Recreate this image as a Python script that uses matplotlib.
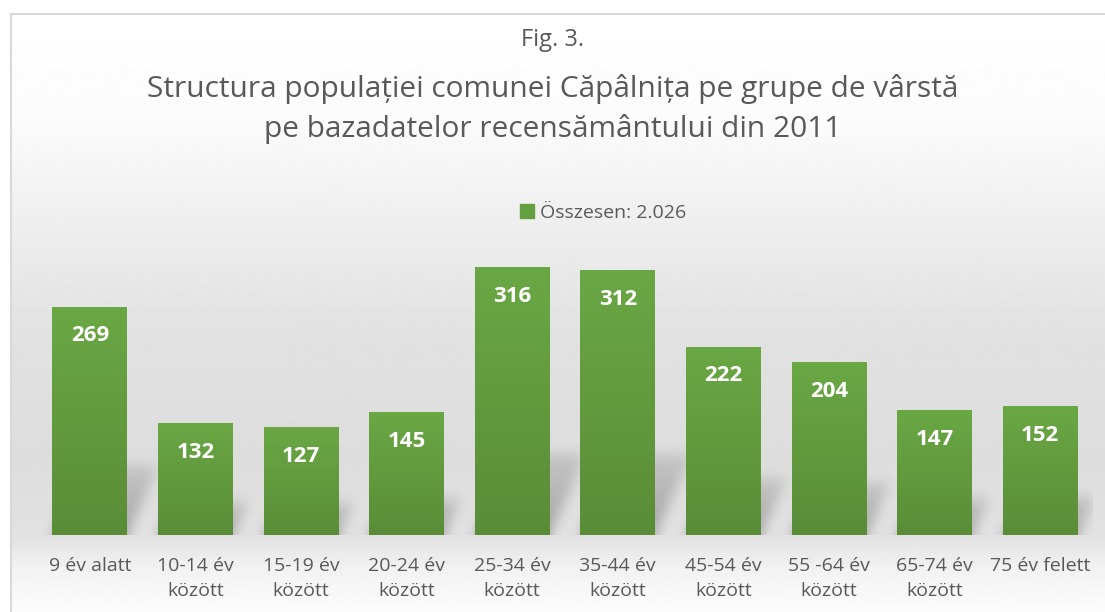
import matplotlib
matplotlib.use("Agg", force=True)

import numpy as np
import matplotlib.pyplot as plt
from matplotlib.patches import Rectangle
from matplotlib.colors import LinearSegmentedColormap

# data
categories = ["9 év alatt", "10-14 év\nközött", "15-19 év\nközött", "20-24 év\nközött",
              "25-34 év\nközött", "35-44 év\nközött", "45-54 év\nközött", "55 -64 év\nközött",
              "65-74 év\nközött", "75 év felett"]
values = [269, 132, 127, 145, 316, 312, 222, 204, 147, 152]
series_name = "Összesen: 2.026"
title_top = "Fig. 3."
title_main = "Structura populației comunei Căpâlnița pe grupe de vârstă\npe bazadatelor recensământului din 2011"

plt.rcParams['font.family'] = ['Open Sans', 'DejaVu Sans']
TXT = "#595959"
W, H = 1105, 612

fig = plt.figure(figsize=(W / 100, H / 100), dpi=100)
fig.patch.set_facecolor("white")

# background gradient inside the chart frame (vertical, grey in the middle)
bg = fig.add_axes([0, 0, 1, 1], zorder=0)
bg.set_xlim(0, W)
bg.set_ylim(H, 0)
bg.axis("off")
stops_y = [13, 120, 220, 330, 460, 535, 570, 612]
stops_c = [1.0, 0.985, 0.935, 0.885, 0.865, 0.885, 0.95, 0.99]
ys = np.arange(13, H + 1)
g = np.interp(ys, stops_y, stops_c)
bg.imshow(np.repeat(g[:, None], 2, axis=1), cmap="gray", vmin=0, vmax=1,
          extent=(10, W, H, 13), aspect="auto", interpolation="bilinear")
bg.plot([10.5, 10.5], [H, 13.5], color="#d9d9d9", lw=1.5)
bg.plot([10.5, W], [13.5, 13.5], color="#d9d9d9", lw=1.5)

# main axes
x0, x1, ybase, ytop = 37, 1093, 535, 238
ax = fig.add_axes([x0 / W, (H - ybase) / H, (x1 - x0) / W, (ybase - ytop) / H], zorder=2)
ax.patch.set_alpha(0)
ymax = 350
ax.set_xlim(-0.5, len(values) - 0.5)
ax.set_ylim(0, ymax)
for s in ax.spines.values():
    s.set_visible(False)
ax.set_yticks([])
xpos = np.arange(len(values))
ax.set_xticks(xpos)
ax.set_xticklabels(categories, fontsize=14, color=TXT, linespacing=1.5, va="top")
ax.tick_params(axis="x", length=0, pad=16)

bw = 0.71

# soft perspective shadows behind the bars
pxx = (x1 - x0) / len(values)
pxy = (ybase - ytop) / ymax
pad = 30
nx, ny = x1 - x0, (ybase - ytop) + pad
mask = np.zeros((ny, nx))
cols = np.arange(nx)
for i, v in enumerate(values):
    hpx = v * pxy
    sh = 0.30 * hpx
    skew = 0.45 * sh
    l = (i + 0.5 - bw / 2) * pxx
    r = (i + 0.5 + bw / 2) * pxx
    for row in range(ny):
        yb = row - pad
        if yb > sh:
            break
        t = max(yb, 0) / sh
        off = skew * t
        sel = (cols >= l + off) & (cols <= r + off)
        mask[row, sel] = np.maximum(mask[row, sel], 1 - 0.6 * t)
k = np.exp(-0.5 * (np.arange(-18, 19) / 6.0) ** 2)
k /= k.sum()
mask = np.apply_along_axis(lambda a: np.convolve(a, k, "same"), 1, mask)
mask = np.apply_along_axis(lambda a: np.convolve(a, k, "same"), 0, mask)
shadow = np.zeros((ny, nx, 4))
shadow[..., :3] = 0.45
shadow[..., 3] = np.clip(mask * 0.55, 0, 1)
ax.imshow(shadow, origin="lower", extent=(-0.5, len(values) - 0.5, -pad / pxy, ymax),
          aspect="auto", zorder=1, interpolation="bilinear")

# bars with vertical green gradient
green = LinearSegmentedColormap.from_list("g", ["#5a8c38", "#6aa844"])
bars = ax.bar(xpos, values, width=bw, color="#64a041", zorder=2)
grad = np.linspace(0, 1, 256)[:, None]
for b in bars:
    im = ax.imshow(grad, cmap=green, origin="lower", aspect="auto", zorder=3,
                   extent=(b.get_x(), b.get_x() + b.get_width(), 0, b.get_height()))
    im.set_clip_path(b)

for x, v in zip(xpos, values):
    ax.annotate(str(v), (x, v), xytext=(0, -21), textcoords="offset points",
                ha="center", va="center", color="white", fontsize=16,
                fontweight="bold", zorder=4)
ax.set_xlim(-0.5, len(values) - 0.5)
ax.set_ylim(0, ymax)

# legend
leg = fig.legend([Rectangle((0, 0), 1, 1, color="#64a041")], [series_name],
                 loc="center", bbox_to_anchor=(603 / W, 1 - 213 / H), frameon=False,
                 fontsize=14, handlelength=0.75, handleheight=0.75, handletextpad=0.3,
                 labelcolor=TXT)

# titles
fig.text(0.5, 1 - 40 / H, title_top, ha="center", va="center", fontsize=17, color=TXT)
fig.text(0.5, 1 - 109 / H, title_main, ha="center", va="center", fontsize=21.5,
         color=TXT, linespacing=1.4)

fig.savefig("out.png", dpi=100)
plt.close(fig)
